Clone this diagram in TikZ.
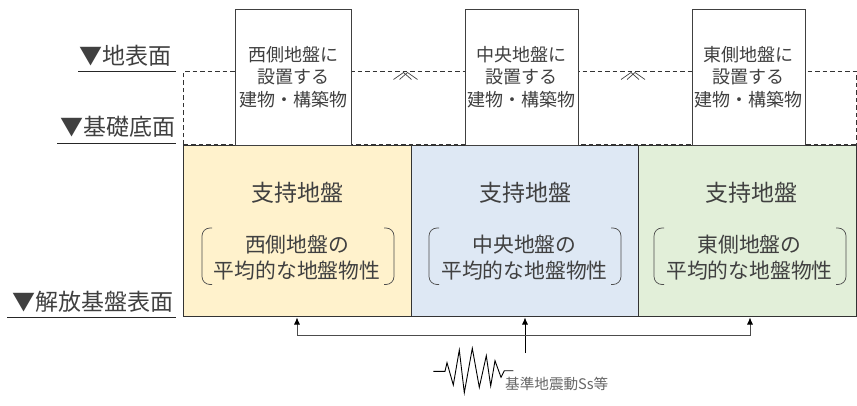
\documentclass[tikz,border=0pt]{standalone}
\usepackage{fontspec}
\setmainfont{Noto Sans CJK JP}
\definecolor{txt}{HTML}{404040}
\definecolor{yel}{HTML}{FFF2CC}
\definecolor{blu}{HTML}{DEE8F4}
\definecolor{grn}{HTML}{E2EFD9}
\tikzset{
  bld/.style={draw=black!75,line width=0.9pt,outer sep=0pt,fill=white,anchor=north west,inner sep=0pt,minimum width=#1,minimum height=136pt,align=center,text=txt,font=\fontsize{18}{22.3}\selectfont},
  gnd/.style={draw=black!80,line width=0.9pt,outer sep=0pt,fill=#1,anchor=north west,inner sep=0pt,minimum height=171pt},
  lvl/.style={anchor=base east,inner sep=0pt,text=txt,font=\fontsize{23}{26}\selectfont},
  rule/.style={line width=0.9pt,black!85},
  dsh/.style={line width=1pt,dash pattern=on 4.5pt off 3pt,black!80},
  arw/.style={line width=0.8pt,black!70,-{Latex[length=7pt,width=6pt,black]}},
  paren/.style={line width=0.7pt,black!70,rounded corners=8pt},
  body/.style={text=txt,align=center,inner sep=0pt},
}
\usetikzlibrary{arrows.meta}
\begin{document}
\begin{tikzpicture}[x=1pt,y=-1pt]
\useasboundingbox (0,0) rectangle (857,406);
% levels
\node[lvl] (l1) at (172,65) {▼地表面};
\coordinate (l1a) at (78,71.5); \coordinate (l1b) at (176,71.5);
\draw[rule] (l1a) -- (l1b);
\node[lvl] (l2) at (175.5,136) {▼基礎底面};
\coordinate (l2a) at (57,143); \coordinate (l2b) at (176,143);
\draw[rule] (l2a) -- (l2b);
\node[lvl] (l3) at (174,310) {▼解放基盤表面};
\coordinate (l3a) at (7,317); \coordinate (l3b) at (176,317);
\draw[rule] (l3a) -- (l3b);
% ground
\node[gnd=yel,minimum width=228pt] (g1) at (183.5,145) {};
\node[gnd=blu,minimum width=226.5pt] (g2) at (411.5,145) {};
\node[gnd=grn,minimum width=218pt] (g3) at (638,145) {};
% dashed ground line
\coordinate (d0) at (183.5,145); \coordinate (d1) at (183.5,71.5); \coordinate (d2) at (856,71.5); \coordinate (d3) at (856,145);
\draw[dsh] (d0) -- (d1) -- (d2) -- (d3);
\draw[dsh] (d0) -- (d3);
% fault marks
\foreach \x/\n in {405.5/a,633/b}{
  \draw[line width=0.7pt,black!75] (\x-12,79.5) -- (\x-2,72.5) -- (\x+6,79.5);
  \draw[line width=0.7pt,black!75] (\x-6,79.5) -- (\x+2,72.5) -- (\x+12,79.5);
}
% buildings
\node[bld=115.5pt] (b1) at (235.5,9) {西側地盤に\\設置する\\建物・構築物};
\node[bld=113pt] (b2) at (465,9) {中央地盤に\\設置する\\建物・構築物};
\node[bld=113.5pt] (b3) at (692,9) {東側地盤に\\設置する\\建物・構築物};
% ground text
\foreach \cx/\hx/\px/\n/\t in {297/297.5/298/1/西側,524.5/525/525/2/中央,749.5/751/750/3/東側}{
  \node[body,font=\fontsize{23}{26}\selectfont] (h\n) at (\hx,193) {支持地盤};
  \node[body,font=\fontsize{20.8}{25.8}\selectfont] (s\n) at (\cx,258) {\t 地盤の\\平均的な地盤物性};
  \draw[paren] (\px-86,228) -- (\px-96,228) -- (\px-96,284.5) -- (\px-86,284.5);
  \draw[paren] (\px+86,228) -- (\px+96,228) -- (\px+96,284.5) -- (\px+86,284.5);
}
% arrows
\coordinate (src) at (525,353);
\coordinate (bus) at (525,335);
\coordinate (t1) at (297,317.5); \coordinate (t2) at (525,317.5); \coordinate (t3) at (750,317.5);
\draw[arw,black] (src) -- (t2);
\draw[arw] (bus) -| (t1);
\draw[arw] (bus) -| (t3);
% spring
\draw[line width=0.9pt,black] (433.3,371.3) -- (445,371.3) -- (447,362.7) -- (453.3,385) -- (459.3,350) -- (464.3,392.7) -- (472.3,348.3) -- (479.3,387.3) -- (486.3,355.7) -- (490.7,386) -- (495,360.7) -- (501,377.3) -- (504.3,370.7) -- (513.3,370.7);
\node[anchor=west,inner sep=0pt,text=black!60,font=\fontsize{14.6}{16}\selectfont] (lab) at (505,384) {基準地震動Ss等};
\end{tikzpicture}
\end{document}
